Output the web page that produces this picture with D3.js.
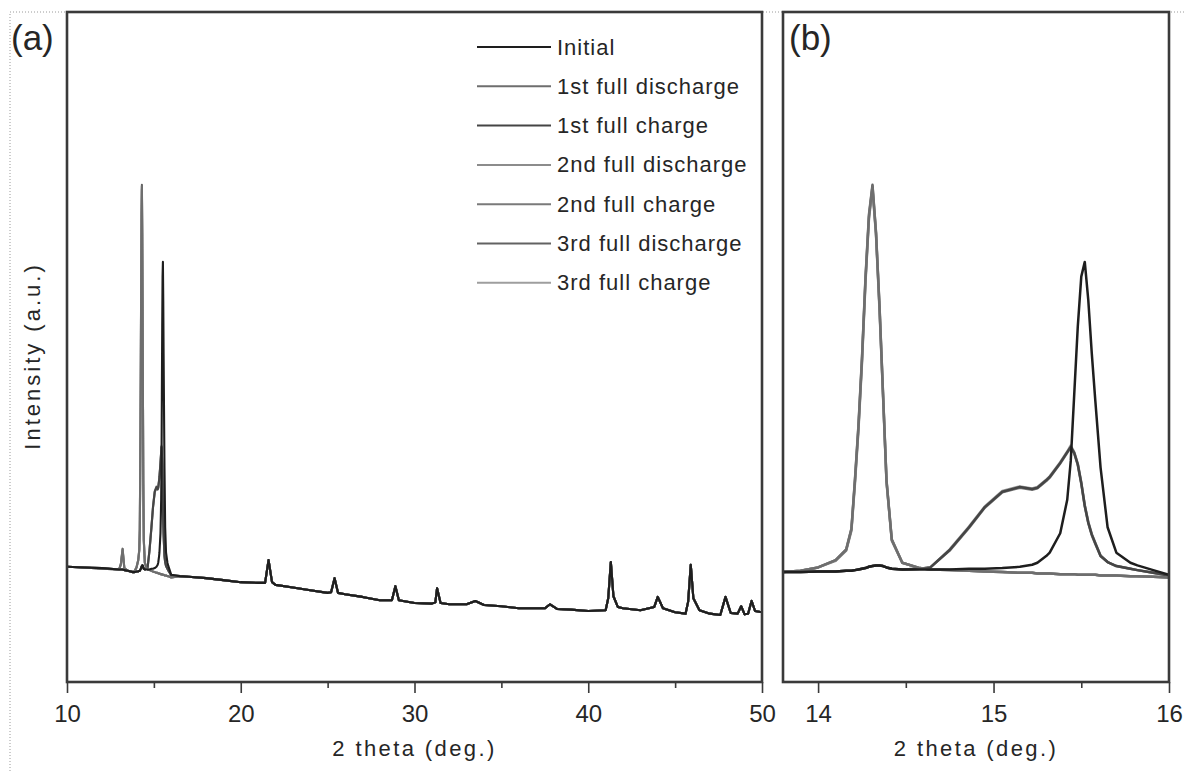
<!DOCTYPE html>
<html>
<head>
<meta charset="utf-8">
<script src="https://cdn.jsdelivr.net/npm/d3@7"></script>
<style>
  html, body { margin: 0; padding: 0; background: #fff; }
  svg { display: block; }
  text { font-family: Arial, "Liberation Sans", Helvetica, sans-serif; fill: #262626; }
</style>
</head>
<body>
<svg id="chart" width="1185" height="771"></svg>
<script>
// ---- XRD patterns: 2θ (deg.) vs intensity (a.u.) ----
const seriesNames = ["Initial", "1st full discharge", "1st full charge",
                     "2nd full discharge", "2nd full charge",
                     "3rd full discharge", "3rd full charge"];
const seriesColors = ["#1e1e1e", "#6e6e6e", "#454545", "#8c8c8c", "#7a7a7a", "#626262", "#9e9e9e"];

// fine 2θ grid up to 16°
const thetaLow = [10.0, 11.0, 12.0, 13.0, 13.1, 13.2, 13.3, 13.5, 13.8, 13.9, 14.0, 14.1,
  14.16, 14.19, 14.21, 14.23, 14.25, 14.27, 14.29, 14.31, 14.33, 14.35, 14.37, 14.39,
  14.42, 14.48, 14.58, 14.64, 14.75, 14.86, 14.95, 15.05, 15.15, 15.22, 15.25, 15.30,
  15.32, 15.38, 15.42, 15.44, 15.46, 15.48, 15.50, 15.52, 15.54, 15.56, 15.58, 15.61,
  15.65, 15.70, 15.78, 15.82, 15.91, 16.0];

const initialLow = [17.2, 17.1, 17.0, 16.8, 16.8, 16.8, 16.7, 16.6, 16.4, 16.4, 16.5, 16.5,
  16.6, 16.6, 16.7, 16.8, 16.9, 17.0, 17.2, 17.3, 17.4, 17.4, 17.3, 17.1,
  16.9, 16.8, 16.8, 16.8, 16.8, 16.9, 16.9, 17.0, 17.2, 17.5, 17.8, 18.8,
  19.3, 22.2, 27.2, 33.0, 43.0, 53.0, 60.5, 62.7, 57.0, 49.0, 42.0, 32.0,
  23.1, 19.3, 17.8, 17.4, 16.7, 16.0];

const discharge1Low = [17.2, 17.1, 16.9, 16.8, 17.6, 19.8, 17.0, 16.6, 16.4, 16.6, 17.1, 18.2,
  19.7, 22.8, 30.0, 38.0, 48.0, 60.0, 69.5, 74.0, 67.0, 56.0, 43.0, 30.0,
  21.2, 17.8, 17.0, 16.8, 16.7, 16.6, 16.5, 16.4, 16.3, 16.3, 16.2, 16.2,
  16.2, 16.1, 16.1, 16.1, 16.1, 16.0, 16.0, 16.0, 16.0, 16.0, 16.0, 15.9,
  15.9, 15.9, 15.8, 15.8, 15.7, 15.6];

const charge1Low = [17.2, 17.1, 17.0, 16.8, 16.8, 16.8, 16.7, 16.6, 16.4, 16.4, 16.5, 16.5,
  16.6, 16.6, 16.7, 16.8, 16.9, 17.0, 17.2, 17.3, 17.4, 17.4, 17.3, 17.1,
  16.9, 16.8, 16.9, 17.1, 19.7, 23.1, 26.1, 28.4, 29.1, 28.8, 29.0, 30.1,
  30.6, 32.7, 34.3, 35.1, 34.2, 32.5, 29.7, 26.3, 23.8, 22.0, 20.7, 18.8,
  17.9, 17.3, 16.9, 16.7, 16.3, 15.9];

const discharge2Low = [17.2, 17.1, 16.9, 16.8, 17.5, 19.6, 17.0, 16.6, 16.4, 16.6, 17.1, 18.1,
  19.6, 22.6, 29.6, 37.6, 47.6, 59.6, 69.2, 73.6, 66.8, 55.6, 42.8, 29.8,
  21.1, 17.8, 17.0, 16.8, 16.7, 16.6, 16.5, 16.4, 16.3, 16.3, 16.2, 16.2,
  16.2, 16.1, 16.1, 16.1, 16.1, 16.0, 16.0, 16.0, 16.0, 16.0, 16.0, 15.9,
  15.9, 15.9, 15.8, 15.8, 15.7, 15.6];

const charge2Low = [17.2, 17.1, 17.0, 16.8, 16.8, 16.8, 16.7, 16.6, 16.4, 16.4, 16.5, 16.5,
  16.6, 16.6, 16.7, 16.8, 16.9, 17.0, 17.2, 17.3, 17.4, 17.4, 17.3, 17.1,
  16.9, 16.8, 16.9, 17.1, 19.6, 23.0, 26.0, 28.3, 29.0, 28.7, 28.9, 30.0,
  30.5, 32.6, 34.2, 35.0, 34.1, 32.4, 29.6, 26.2, 23.7, 21.9, 20.6, 18.8,
  17.9, 17.3, 16.9, 16.7, 16.3, 15.9];

const discharge3Low = [17.2, 17.1, 16.9, 16.8, 17.6, 19.9, 17.0, 16.6, 16.4, 16.6, 17.1, 18.2,
  19.8, 22.9, 30.2, 38.3, 48.3, 60.3, 69.8, 74.2, 67.2, 56.2, 43.2, 30.1,
  21.3, 17.8, 17.0, 16.8, 16.7, 16.6, 16.5, 16.4, 16.3, 16.3, 16.2, 16.2,
  16.2, 16.1, 16.1, 16.1, 16.1, 16.0, 16.0, 16.0, 16.0, 16.0, 16.0, 15.9,
  15.9, 15.9, 15.8, 15.8, 15.7, 15.6];

const charge3Low = [17.2, 17.1, 17.0, 16.8, 16.8, 16.8, 16.7, 16.6, 16.4, 16.4, 16.5, 16.5,
  16.6, 16.6, 16.7, 16.8, 16.9, 17.0, 17.2, 17.3, 17.4, 17.4, 17.3, 17.1,
  16.9, 16.8, 16.9, 17.1, 19.8, 23.2, 26.2, 28.5, 29.2, 28.9, 29.1, 30.2,
  30.7, 32.8, 34.4, 35.3, 34.3, 32.6, 29.8, 26.4, 23.9, 22.1, 20.8, 18.9,
  17.9, 17.3, 16.9, 16.7, 16.3, 15.9];

// 2θ above 16°: all patterns coincide (cell background and component reflections)
const thetaHigh = [16.5, 17.0, 18.0, 19.0, 20.0, 21.0, 21.4, 21.6, 21.8, 22.0, 23.0, 24.0,
  25.0, 25.2, 25.4, 25.6, 26.0, 27.0, 28.0, 28.7, 28.9, 29.1, 30.0, 31.0,
  31.2, 31.3, 31.5, 32.0, 33.0, 33.5, 34.0, 35.0, 36.0, 37.5, 37.8, 38.2,
  39.0, 40.0, 41.0, 41.15, 41.3, 41.45, 41.7, 42.0, 43.0, 43.8, 44.0, 44.3,
  45.0, 45.6, 45.75, 45.9, 46.05, 46.4, 47.0, 47.6, 47.9, 48.2, 48.6, 48.8,
  49.0, 49.2, 49.4, 49.6, 50.0];
const intensityHigh = [15.8, 15.7, 15.5, 15.2, 14.9, 14.8, 14.8, 18.2, 14.9, 14.5, 14.1, 13.7,
  13.3, 13.4, 15.5, 13.3, 13.1, 12.7, 12.2, 12.2, 14.3, 12.2, 11.8, 11.7,
  11.9, 14.0, 11.8, 11.6, 11.6, 12.1, 11.5, 11.3, 11.0, 11.0, 11.6, 10.9,
  10.8, 10.6, 10.7, 12.5, 17.9, 12.8, 11.2, 11.0, 10.7, 11.2, 12.7, 11.0,
  10.4, 10.2, 12.0, 17.5, 12.5, 10.7, 10.2, 10.0, 12.7, 10.3, 10.2, 11.3,
  10.1, 10.2, 12.1, 10.6, 10.4];

const seriesLow = [initialLow, discharge1Low, charge1Low, discharge2Low, charge2Low, discharge3Low, charge3Low];

const ticksA = [10, 20, 30, 40, 50];
const minorTicksA = [15, 25, 35, 45];
const ticksB = [14, 15, 16];
const minorTicksB = [14.5, 15.5];

// ---- layout ----
const svg = d3.select("#chart");
const W = 1185, H = 771;
const plotTop = 12, plotBottom = 682;
const panelA = { left: 67, right: 762, domain: [10, 50] };
const panelB = { left: 783, right: 1169, domain: [13.8, 16] };

const y = d3.scaleLinear().domain([0, 100]).range([plotBottom, plotTop]);
const xA = d3.scaleLinear().domain(panelA.domain).range([panelA.left, panelA.right]);
const xB = d3.scaleLinear().domain(panelB.domain).range([panelB.left, panelB.right]);

// faint outer border of the figure
svg.append("path")
  .attr("d", `M10,${H} L10,${plotTop} L${W},${plotTop}`)
  .attr("fill", "none").attr("stroke", "#9a9a9a").attr("stroke-width", 1)
  .attr("stroke-dasharray", "1,2");

const series = seriesNames.map((name, i) => ({
  name,
  color: seriesColors[i],
  points: thetaLow.map((t, j) => [t, seriesLow[i][j]])
    .concat(thetaHigh.map((t, j) => [t, intensityHigh[j]]))
}));
// draw the initial pattern last so it sits on top
const drawOrder = [6, 5, 4, 3, 2, 1, 0];

function drawPanel(id, x, p, majors, minors, lineWidth) {
  const g = svg.append("g");
  svg.append("clipPath").attr("id", id)
    .append("rect").attr("x", p.left).attr("y", plotTop)
    .attr("width", p.right - p.left).attr("height", plotBottom - plotTop);

  const line = d3.line().x(d => x(d[0])).y(d => y(d[1]));
  const lines = g.append("g").attr("clip-path", `url(#${id})`);
  drawOrder.forEach(i => {
    lines.append("path")
      .datum(series[i].points)
      .attr("d", line)
      .attr("fill", "none")
      .attr("stroke", series[i].color)
      .attr("stroke-width", lineWidth)
      .attr("stroke-linejoin", "round");
  });

  // minor ticks
  const minorAxis = g.append("g").attr("transform", `translate(0,${plotBottom})`)
    .call(d3.axisBottom(x).tickValues(minors).tickSize(6).tickFormat(""));
  minorAxis.select(".domain").remove();
  minorAxis.selectAll("line").attr("stroke", "#3a3a3a").attr("stroke-width", 1.6);

  // major ticks with labels
  const majorAxis = g.append("g").attr("transform", `translate(0,${plotBottom})`)
    .call(d3.axisBottom(x).tickValues(majors).tickSize(11).tickPadding(12).tickFormat(d3.format("d")));
  majorAxis.select(".domain").remove();
  majorAxis.selectAll("line").attr("stroke", "#3a3a3a").attr("stroke-width", 1.6);
  majorAxis.selectAll("text")
    .attr("font-size", 24).attr("fill", "#262626")
    .style("font-family", 'Arial, "Liberation Sans", sans-serif');

  // frame
  g.append("rect")
    .attr("x", p.left).attr("y", plotTop)
    .attr("width", p.right - p.left).attr("height", plotBottom - plotTop)
    .attr("fill", "none").attr("stroke", "#3a3a3a").attr("stroke-width", 2.6);

  // axis title
  g.append("text")
    .attr("x", (p.left + p.right) / 2).attr("y", 756)
    .attr("text-anchor", "middle")
    .attr("font-size", 22)
    .attr("letter-spacing", "2.4px")
    .text("2 theta (deg.)");
  return g;
}

drawPanel("clipA", xA, panelA, ticksA, minorTicksA, 2.1);
drawPanel("clipB", xB, panelB, ticksB, minorTicksB, 2.5);

// panel letters
svg.append("text").attr("x", 11).attr("y", 50).attr("font-size", 35).text("(a)");
svg.append("text").attr("x", 789).attr("y", 50).attr("font-size", 35).text("(b)");

// y-axis title
svg.append("text")
  .attr("transform", "translate(40,356) rotate(-90)")
  .attr("text-anchor", "middle")
  .attr("font-size", 22)
  .attr("letter-spacing", "3px")
  .text("Intensity (a.u.)");

// legend
const legend = svg.append("g");
seriesNames.forEach((name, i) => {
  const ly = 47 + i * 39.3;
  legend.append("line")
    .attr("x1", 477).attr("x2", 551).attr("y1", ly).attr("y2", ly)
    .attr("stroke", seriesColors[i]).attr("stroke-width", 2);
  legend.append("text")
    .attr("x", 557).attr("y", ly)
    .attr("dominant-baseline", "central")
    .attr("font-size", 22)
    .attr("letter-spacing", "1px")
    .text(name);
});
</script>
</body>
</html>
